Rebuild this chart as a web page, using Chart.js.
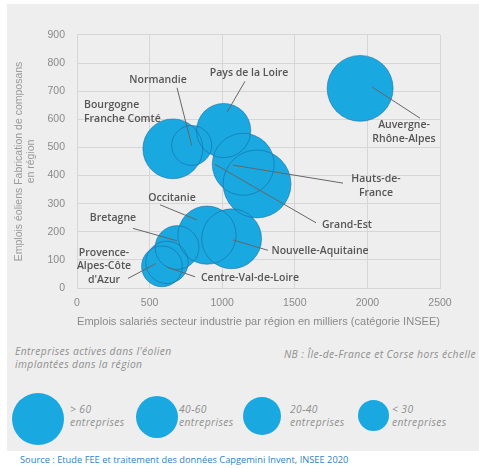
<!DOCTYPE html>
<html>
<head>
<meta charset="utf-8">
<script src="https://cdn.jsdelivr.net/npm/chart.js@4"></script>
<style>
  body { margin: 0; background: #fff; width: 479px; height: 468px; overflow: hidden; font-family: "Open Sans", sans-serif; }
  #panel { position: absolute; left: 7px; top: 4px; width: 472px; height: 447px; background: #eeeeee; }
  #wrap { position: absolute; left: 0; top: 0; width: 479px; height: 340px; }
  .txt { position: absolute; color: #8e8e8e; font-size: 10.3px; letter-spacing: 0.4px; font-style: italic; white-space: nowrap; line-height: 13px; }
  .dot { position: absolute; border-radius: 50%; background: #1aa8e0; }
  #source { position: absolute; left: 20px; top: 453px; color: #2f7fc4; font-size: 9.3px; white-space: nowrap; }
</style>
</head>
<body>
<div id="panel"></div>
<div id="wrap"><canvas id="myChart"></canvas></div>

<div class="txt" style="left:15px;top:345px;">Entreprises actives dans l'éolien<br>implantées dans la région</div>
<div class="txt" style="right:3px;top:348px;">NB : Île-de-France et Corse hors échelle</div>

<div class="dot" style="left:12px;top:393px;width:52px;height:52px;"></div>
<div class="txt" style="left:70px;top:403px;">&gt; 60<br>entreprises</div>
<div class="dot" style="left:136px;top:396px;width:42px;height:42px;"></div>
<div class="txt" style="left:179px;top:403px;">40-60<br>entreprises</div>
<div class="dot" style="left:243px;top:397px;width:38px;height:38px;"></div>
<div class="txt" style="left:290px;top:403px;">20-40<br>entreprises</div>
<div class="dot" style="left:358px;top:400px;width:31px;height:31px;"></div>
<div class="txt" style="left:392px;top:403px;">&lt; 30<br>entreprises</div>

<div id="source">Source : Etude FEE et traitement des données Capgemini Invent, INSEE 2020</div>

<script>
const ctx = document.getElementById("myChart");

// régions, emplois industrie (milliers), emplois éoliens, nb d'entreprises
const regions = [
  "Auvergne-Rhône-Alpes", "Pays de la Loire", "Bourgogne Franche Comté",
  "Normandie", "Hauts-de-France", "Grand-Est", "Nouvelle-Aquitaine",
  "Occitanie", "Bretagne", "Centre-Val-de-Loire", "Provence-Alpes-Côte d'Azur",
];
const emploisIndustrie = [1950, 1010, 660, 790, 1145, 1240, 1065, 895, 689, 620, 585];
const emploisEolien = [710, 560, 495, 507, 440, 370, 175, 188, 144, 91, 77];
const entreprises = [68, 46, 56, 25, 60, 72, 56, 53, 30, 28, 26];

const xTicks = [0, 500, 1000, 1500, 2000, 2500];
const yTicks = [0, 100, 200, 300, 400, 500, 600, 700, 800, 900];

// étiquettes : texte, position du texte, début et fin du trait (unités des axes)
const etiquettes = [
  { lines: ["Normandie"], at: [558, 739], from: [689, 712], to: [790, 507] },
  { lines: ["Pays de la Loire"], at: [1185, 766], from: [1157, 735], to: [1033, 625] },
  { lines: ["Bourgogne", "Franche Comté"], at: [48, 625], align: "left" },
  { lines: ["Auvergne-", "Rhône-Alpes"], at: [2252, 554], from: [2362, 604], to: [2032, 715] },
  { lines: ["Hauts-de-", "France"], at: [2059, 363], from: [1832, 373], to: [1074, 437] },
  { lines: ["Grand-Est"], at: [1859, 225], from: [1646, 232], to: [950, 440] },
  { lines: ["Nouvelle-Aquitaine"], at: [1674, 131], from: [1315, 134], to: [1074, 171] },
  { lines: ["Centre-Val-de-Loire"], at: [1191, 34], from: [813, 40], to: [620, 74] },
  { lines: ["Occitanie"], at: [654, 319], from: [572, 296], to: [826, 242] },
  { lines: ["Bretagne"], at: [248, 248], from: [386, 212], to: [689, 168] },
  { lines: ["Provence-", "Alpes-Côte", "d'Azur"], at: [186, 77], from: [351, 34], to: [544, 87] },
];

const points = regions.map((r, i) => ({
  x: emploisIndustrie[i],
  y: emploisEolien[i],
  r: 4 * Math.sqrt(entreprises[i]),
}));

const labelPlugin = {
  id: "etiquettes",
  afterDatasetsDraw(chart) {
    const c = chart.ctx;
    const xs = chart.scales.x;
    const ys = chart.scales.y;
    c.save();
    c.strokeStyle = "#666";
    c.lineWidth = 1;
    etiquettes.forEach((e) => {
      if (e.from) {
        c.beginPath();
        c.moveTo(xs.getPixelForValue(e.from[0]), ys.getPixelForValue(e.from[1]));
        c.lineTo(xs.getPixelForValue(e.to[0]), ys.getPixelForValue(e.to[1]));
        c.stroke();
      }
    });
    c.fillStyle = "#555";
    c.font = "600 10.5px 'Open Sans'";
    c.textBaseline = "middle";
    etiquettes.forEach((e) => {
      const px = xs.getPixelForValue(e.at[0]);
      const py = ys.getPixelForValue(e.at[1]);
      c.textAlign = e.align || "center";
      const lh = 13.5;
      e.lines.forEach((t, k) => {
        c.fillText(t, px, py + (k - (e.lines.length - 1) / 2) * lh);
      });
    });
    c.restore();
  },
};

new Chart(ctx, {
  type: "bubble",
  data: {
    datasets: [
      {
        // contours, dessinés par-dessus les remplissages
        data: points,
        backgroundColor: "rgba(0,0,0,0)",
        borderColor: "rgba(20,95,150,0.5)",
        borderWidth: 1,
        clip: false,
        order: 0,
      },
      {
        data: points,
        backgroundColor: "#1aa8e0",
        borderWidth: 0,
        clip: false,
        order: 1,
      },
    ],
  },
  options: {
    responsive: true,
    maintainAspectRatio: false,
    animation: false,
    events: [],
    layout: { padding: { left: 0, top: 20, right: 39, bottom: 0 } },
    plugins: {
      legend: { display: false },
      tooltip: { enabled: false },
    },
    scales: {
      x: {
        type: "linear",
        min: 0,
        max: 2500,
        afterBuildTicks: (s) => { s.ticks = xTicks.map((v) => ({ value: v })); },
        afterFit: (s) => { s.height = 52; },
        grid: { color: "#d6d6d6", drawTicks: false },
        border: { color: "#d6d6d6" },
        ticks: { padding: 9, color: "#8a8a8a", font: { size: 10.5 }, callback: (v) => String(v) },
        title: {
          display: true,
          text: "Emplois salariés secteur industrie par région en milliers (catégorie INSEE)",
          color: "#8a8a8a",
          font: { size: 11.3 },
          padding: { top: 0, bottom: 11 },
        },
      },
      y: {
        type: "linear",
        min: 0,
        max: 900,
        afterBuildTicks: (s) => { s.ticks = yTicks.map((v) => ({ value: v })); },
        afterFit: (s) => { s.width = 77; },
        grid: { color: "#d6d6d6", drawTicks: false },
        border: { color: "#d6d6d6" },
        ticks: { padding: 12, color: "#8a8a8a", font: { size: 10.5 }, callback: (v) => String(v) },
        title: {
          display: true,
          text: ["Emplois éoliens Fabrication de composans", "en région"],
          color: "#9a9a9a",
          font: { size: 10.5, lineHeight: 1.15 },
          padding: { top: 13, bottom: 0 },
        },
      },
    },
  },
  plugins: [labelPlugin],
});
</script>
</body>
</html>
